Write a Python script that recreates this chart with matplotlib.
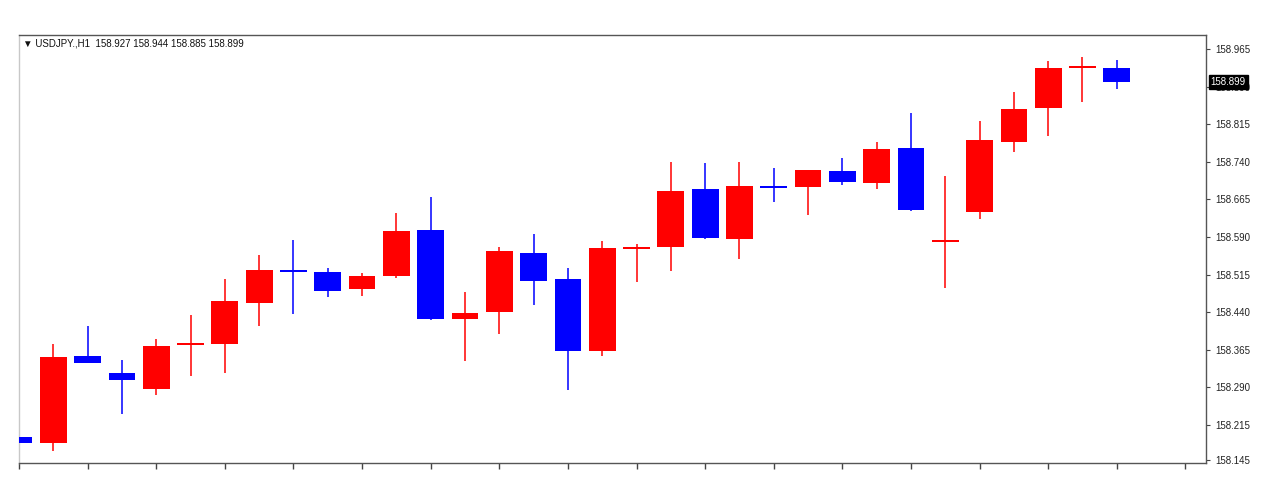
import matplotlib
matplotlib.use('Agg')
import matplotlib.pyplot as plt
import matplotlib.transforms as mtransforms

# USDJPY H1 candles
opens = [158.191, 158.178, 158.353, 158.319, 158.287, 158.375, 158.376, 158.459, 158.522, 158.521, 158.487,
         158.512, 158.604, 158.427, 158.440, 158.558, 158.506, 158.363, 158.566, 158.569, 158.685, 158.585,
         158.689, 158.690, 158.722, 158.697, 158.767, 158.579, 158.639, 158.780, 158.847, 158.928, 158.927]
highs = [158.199, 158.377, 158.413, 158.345, 158.387, 158.434, 158.506, 158.554, 158.583, 158.529, 158.518,
         158.637, 158.669, 158.480, 158.570, 158.596, 158.529, 158.581, 158.576, 158.739, 158.737, 158.740,
         158.728, 158.724, 158.747, 158.780, 158.838, 158.712, 158.821, 158.880, 158.942, 158.949, 158.944]
lows = [158.161, 158.162, 158.338, 158.236, 158.275, 158.313, 158.318, 158.412, 158.436, 158.470, 158.472,
        158.508, 158.424, 158.343, 158.396, 158.454, 158.285, 158.353, 158.501, 158.523, 158.585, 158.546,
        158.659, 158.634, 158.694, 158.685, 158.642, 158.489, 158.626, 158.759, 158.792, 158.860, 158.885]
closes = [158.179, 158.351, 158.338, 158.305, 158.373, 158.377, 158.462, 158.524, 158.521, 158.483, 158.512,
          158.602, 158.427, 158.439, 158.562, 158.502, 158.363, 158.568, 158.568, 158.681, 158.587, 158.692,
          158.688, 158.724, 158.699, 158.765, 158.643, 158.580, 158.784, 158.846, 158.927, 158.929, 158.899]

price_ticks = [158.965, 158.890, 158.815, 158.740, 158.665, 158.590, 158.515, 158.440,
               158.365, 158.290, 158.215, 158.145]
last_price = 158.899
title = '\u25bc USDJPY.,H1  158.927 158.944 158.885 158.899'

plt.rcParams['font.family'] = ['Liberation Sans', 'DejaVu Sans']

fig = plt.figure(figsize=(12.74, 5), dpi=100, facecolor='white')
ax = fig.add_axes([19 / 1274, 37 / 500, 1187 / 1274, 428 / 500])

x = list(range(len(opens)))
up_col, down_col = '#ff0000', '#0000ff'
cols = [up_col if c >= o else down_col for o, c in zip(opens, closes)]

ax.vlines(x, lows, highs, colors=cols, linewidth=1.1, zorder=2)
bottoms = [min(o, c) for o, c in zip(opens, closes)]
heights = [max(abs(c - o), 0.004) for o, c in zip(opens, closes)]
ax.bar(x, heights, bottom=bottoms, width=0.78, color=cols, linewidth=0, zorder=3)

ax.set_xlim(0, 34.6)
ax.set_ylim(158.139, 158.993)

ax.set_xticks(range(0, 35, 2))
ax.set_xticklabels([])
ax.tick_params(axis='x', length=4, width=1, color='#444444', direction='out')

ax.yaxis.tick_right()
ax.set_yticks(price_ticks)
ax.set_yticklabels(['%.3f' % v for v in price_ticks])
ax.tick_params(axis='y', length=3, width=0.8, color='#444444', labelsize=7,
               labelcolor='#222222', pad=4)

for side in ['top', 'right', 'bottom']:
    ax.spines[side].set_color('#555555')
    ax.spines[side].set_linewidth(1)
ax.spines['left'].set_color('#c8c8c8')
ax.spines['left'].set_linewidth(1)

ax.text(0.003, 0.979, title, transform=ax.transAxes, fontsize=7, color='#111111',
        ha='left', va='center')

# current price marker on the price scale
trans = mtransforms.blended_transform_factory(ax.transAxes, ax.transData)
ax.text(1.004, last_price, '%.3f' % last_price, transform=trans, fontsize=7, color='white',
        ha='left', va='center', zorder=10, clip_on=False,
        bbox=dict(boxstyle='square,pad=0.2', facecolor='black', edgecolor='black'))

fig.savefig('out.png', dpi=100, facecolor='white')
